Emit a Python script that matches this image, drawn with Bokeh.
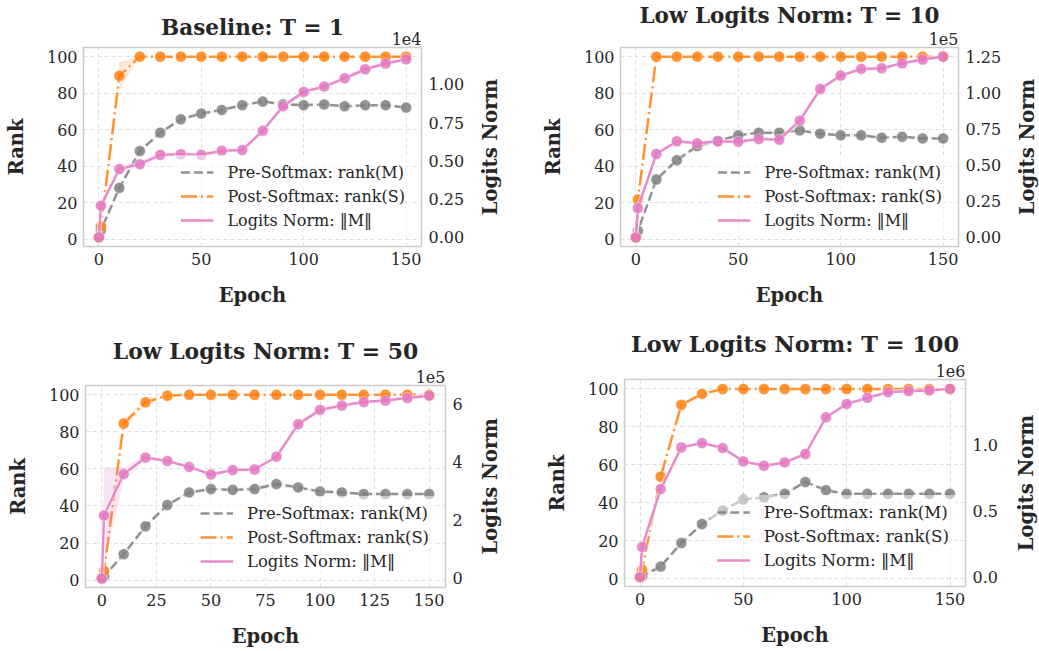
import math
from bokeh.plotting import figure
from bokeh.models import (Range1d, LinearAxis, FixedTicker, Legend, LegendItem,
                          Title, Label, NumeralTickFormatter)
from bokeh.layouts import column, row
from bokeh.embed import file_html
from bokeh.resources import INLINE

# ---------------- data ----------------
epochs = [0, 1, 10, 20, 30, 40, 50, 60, 70, 80, 90, 100, 110, 120, 130, 140, 150]

titles = ["Baseline: T = 1", "Low Logits Norm: T = 10",
          "Low Logits Norm: T = 50", "Low Logits Norm: T = 100"]
norm_exponents = ["1e4", "1e5", "1e5", "1e6"]

# T = 1
pre_t1 = [1.0, 5.0, 28.1, 48.3, 58.3, 65.7, 68.8, 70.8, 73.4, 75.4, 73.9, 73.4, 73.8, 72.8, 73.4, 73.4, 72.1]
post_t1 = [1.0, 7.0, 89.5, 100, 100, 100, 100, 100, 100, 100, 100, 100, 100, 100, 100, 100, 100]
norm_t1 = [0.0, 0.207, 0.446, 0.478, 0.539, 0.543, 0.539, 0.565, 0.570, 0.696, 0.857, 0.950, 0.985, 1.039, 1.098, 1.135, 1.163]
pre_sd_t1 = [0, 1.0, 1.5, 1.5, 1.0, 1.0, 1.0, 1.0, 1.0, 0.8, 0.8, 0.8, 0.8, 0.8, 0.8, 0.8, 0.8]
post_sd_t1 = [0, 1.0, 7.5, 0, 0, 0, 0, 0, 0, 0, 0, 0, 0, 0, 0, 0, 0]
norm_sd_t1 = [0, 0.01, 0.025, 0.02, 0.015, 0.015, 0.015, 0.015, 0.015, 0.015, 0.015, 0.015, 0.015, 0.015, 0.015, 0.015, 0.015]

# T = 10
pre_t10 = [1.0, 4.6, 32.7, 43.3, 51.0, 53.8, 56.9, 58.3, 58.3, 59.6, 57.8, 56.9, 56.9, 55.6, 56.1, 55.2, 55.2]
post_t10 = [1.0, 21.7, 100, 100, 100, 100, 100, 100, 100, 100, 100, 100, 100, 100, 100, 100, 100]
norm_t10 = [0.0, 0.204, 0.579, 0.667, 0.653, 0.667, 0.664, 0.683, 0.678, 0.810, 1.030, 1.123, 1.169, 1.174, 1.208, 1.234, 1.255]
pre_sd_t10 = [0, 1.0, 1.5, 1.5, 1.0, 1.0, 1.0, 1.0, 1.0, 0.8, 0.8, 0.8, 0.8, 0.8, 0.8, 0.8, 0.8]
post_sd_t10 = [0, 0.5, 0, 0, 0, 0, 0, 0, 0, 0, 0, 0, 0, 0, 0, 0, 0]
norm_sd_t10 = [0, 0.01, 0.015, 0.012, 0.012, 0.012, 0.012, 0.012, 0.012, 0.012, 0.012, 0.012, 0.012, 0.012, 0.012, 0.012, 0.012]

# T = 50
pre_t50 = [1.0, 2.0, 14.0, 29.0, 40.5, 47.3, 49.1, 48.7, 49.1, 51.8, 50.0, 47.8, 47.3, 46.4, 46.4, 46.4, 46.4]
post_t50 = [1.0, 5.0, 84.5, 95.9, 99.5, 100, 100, 100, 100, 100, 100, 100, 100, 100, 100, 100, 100]
norm_t50 = [0.0, 2.17, 3.59, 4.16, 4.04, 3.84, 3.58, 3.73, 3.75, 4.19, 5.31, 5.80, 5.95, 6.07, 6.12, 6.21, 6.29]
pre_sd_t50 = [0, 0.5, 1.0, 1.0, 1.0, 1.0, 1.0, 1.0, 1.2, 1.5, 1.0, 0.8, 0.8, 0.8, 0.8, 0.8, 0.8]
post_sd_t50 = [0, 1.0, 2.5, 2.0, 0.5, 0, 0, 0, 0, 0, 0, 0, 0, 0, 0, 0, 0]
norm_sd_t50 = [0, 1.67, 0.23, 0.06, 0.05, 0.05, 0.05, 0.05, 0.05, 0.06, 0.06, 0.06, 0.06, 0.06, 0.06, 0.06, 0.06]

# T = 100
pre_t100 = [1.0, 1.5, 6.5, 18.9, 28.9, 36.0, 41.8, 43.0, 44.8, 51.0, 46.7, 44.8, 44.8, 44.8, 44.8, 44.8, 44.8]
post_t100 = [1.0, 4.8, 53.8, 91.7, 97.4, 100, 100, 100, 100, 100, 100, 100, 100, 100, 100, 100, 100]
norm_t100 = [0.0, 0.228, 0.666, 0.982, 1.015, 0.977, 0.876, 0.843, 0.868, 0.932, 1.210, 1.311, 1.357, 1.400, 1.408, 1.413, 1.425]
pre_sd_t100 = [0, 0.5, 0.8, 0.8, 0.8, 0.8, 0.8, 0.8, 0.8, 0.8, 0.8, 0.5, 0.5, 0.5, 0.5, 0.5, 0.5]
post_sd_t100 = [0, 0.5, 1.0, 0.8, 0.5, 0, 0, 0, 0, 0, 0, 0, 0, 0, 0, 0, 0]
norm_sd_t100 = [0, 0.01, 0.012, 0.012, 0.01, 0.01, 0.01, 0.01, 0.01, 0.01, 0.012, 0.012, 0.01, 0.01, 0.01, 0.01, 0.01]

rank_ticks = [0, 20, 40, 60, 80, 100]
norm_ticks_list = [[0, 0.25, 0.5, 0.75, 1.0], [0, 0.25, 0.5, 0.75, 1.0, 1.25], [0, 2, 4, 6], [0, 0.5, 1.0]]
norm_formats = ["0.00", "0.00", "0", "0.0"]
norm_ranges = [(-0.06, 1.24), (-0.063, 1.318), (-0.31, 6.64), (-0.0713, 1.496)]
epoch_ticks_list = [[0, 50, 100, 150], [0, 50, 100, 150], [0, 25, 50, 75, 100, 125, 150], [0, 50, 100, 150]]

# ---------------- style ----------------
GRAY = "#7f7f7f"
ORANGE = "#ff7f0e"
PINK = "#e377c2"
FONT = "DejaVu Serif"
TXT = "#262626"

# geometry: (main width, height, left, right, top, bottom, title_standoff, exp_standoff,
#            side width, side label x, side label y from bottom, title size, legend size)
geoms = [
    (474, 320, 83, 53, 47, 74, -23, 5, 45, 16, 173.5, "21.5px", "16px"),
    (485, 320, 101, 46, 47, 74, 1, 5, 35, 22.5, 173.5, "21.5px", "16px"),
    (470, 331, 85, 25, 65, 64, 5, 5, 49, 20, 165.2, "21.9px", "16.4px"),
    (483, 331, 105, 37, 59, 65, 8, 5, 37, 24, 168.5, "22.4px", "16.7px"),
]

series = [
    (pre_t1, post_t1, norm_t1, pre_sd_t1, post_sd_t1, norm_sd_t1),
    (pre_t10, post_t10, norm_t10, pre_sd_t10, post_sd_t10, norm_sd_t10),
    (pre_t50, post_t50, norm_t50, pre_sd_t50, post_sd_t50, norm_sd_t50),
    (pre_t100, post_t100, norm_t100, pre_sd_t100, post_sd_t100, norm_sd_t100),
]


def style_axis(ax, label_standoff, tick_standoff):
    ax.axis_line_color = None
    ax.major_tick_out = 0
    ax.major_tick_in = 0
    ax.minor_tick_out = 0
    ax.minor_tick_in = 0
    ax.major_label_text_font = FONT
    ax.major_label_text_font_size = "16px"
    ax.major_label_text_color = TXT
    ax.axis_label_text_font = FONT
    ax.axis_label_text_font_style = "bold"
    ax.axis_label_text_font_size = "19.5px"
    ax.axis_label_text_color = TXT
    ax.major_label_standoff = tick_standoff
    ax.axis_label_standoff = label_standoff


def make_panel(i):
    W, H, bl, br, bt, bb, tso, eso, sw, sx, sy, tsize, lsize = geoms[i]
    pre, post, norm, pre_sd, post_sd, norm_sd = series[i]
    p = figure(width=W, height=H, x_range=Range1d(-7.5, 157.5), y_range=Range1d(-4, 105),
               output_backend="svg", toolbar_location=None, title=None, frame_align=False,
               min_border_left=bl, min_border_right=br, min_border_top=bt, min_border_bottom=bb)
    p.extra_y_ranges = {"norm": Range1d(*norm_ranges[i])}
    p.background_fill_color = "white"
    p.border_fill_color = "white"
    p.outline_line_color = "#cccccc"
    p.outline_line_width = 1.5

    style_axis(p.xaxis[0], 16, 6)
    style_axis(p.yaxis[0], 16, 6)
    p.xaxis[0].ticker = FixedTicker(ticks=epoch_ticks_list[i])
    p.yaxis[0].ticker = FixedTicker(ticks=rank_ticks)
    p.xaxis[0].axis_label = "Epoch"
    p.yaxis[0].axis_label = "Rank"

    rax = LinearAxis(y_range_name="norm",
                     ticker=FixedTicker(ticks=norm_ticks_list[i]),
                     formatter=NumeralTickFormatter(format=norm_formats[i]))
    style_axis(rax, 0, 7)
    p.add_layout(rax, "right")

    # grid
    p.xgrid.ticker = FixedTicker(ticks=epoch_ticks_list[i])
    p.ygrid.ticker = FixedTicker(ticks=rank_ticks)
    for g in (p.xgrid[0], p.ygrid[0]):
        g.grid_line_color = "#dedede"
        g.grid_line_dash = "4 3"
        g.grid_line_width = 1

    # bands
    p.varea(x=epochs, y1=[m - s for m, s in zip(pre, pre_sd)], y2=[m + s for m, s in zip(pre, pre_sd)],
            fill_color=GRAY, fill_alpha=0.2)
    p.varea(x=epochs, y1=[m - s for m, s in zip(post, post_sd)], y2=[m + s for m, s in zip(post, post_sd)],
            fill_color=ORANGE, fill_alpha=0.2)

    # pre-softmax
    p.line(epochs, pre, line_color="white", line_width=5, line_alpha=0.6)
    gl = p.line(epochs, pre, line_color=GRAY, line_width=2.5, line_dash="9 4", line_alpha=0.85)
    p.scatter(epochs, pre, size=11, fill_color=GRAY, fill_alpha=0.85, line_color="white", line_alpha=0.5, line_width=0.8)
    # post-softmax
    p.line(epochs, post, line_color="white", line_width=5, line_alpha=0.6)
    ol = p.line(epochs, post, line_color=ORANGE, line_width=2.5, line_dash="16 4 2 4", line_alpha=0.85)
    p.scatter(epochs, post, size=11, fill_color=ORANGE, fill_alpha=0.85, line_color="white", line_alpha=0.5, line_width=0.8)
    # logits norm (right axis)
    p.varea(x=epochs, y1=[m - s for m, s in zip(norm, norm_sd)], y2=[m + s for m, s in zip(norm, norm_sd)],
            fill_color=PINK, fill_alpha=0.2, y_range_name="norm")
    p.line(epochs, norm, line_color="white", line_width=5, line_alpha=0.6, y_range_name="norm")
    pl = p.line(epochs, norm, line_color=PINK, line_width=2.5, line_alpha=0.85, y_range_name="norm")
    p.scatter(epochs, norm, size=11, fill_color=PINK, fill_alpha=0.85, line_color="white", line_alpha=0.5,
              line_width=0.8, y_range_name="norm")

    legend = Legend(items=[LegendItem(label="Pre-Softmax: rank(M)", renderers=[gl]),
                           LegendItem(label="Post-Softmax: rank(S)", renderers=[ol]),
                           LegendItem(label="Logits Norm: \u2016M\u2016", renderers=[pl])],
                    location="bottom_right")
    legend.label_text_font = FONT
    legend.label_text_font_size = lsize
    legend.label_text_color = TXT
    legend.glyph_width = 33
    legend.glyph_height = 20
    legend.spacing = 4
    legend.label_standoff = 14
    legend.padding = 7
    legend.margin = 9
    legend.background_fill_alpha = 0.5
    legend.border_line_alpha = 0
    p.add_layout(legend)

    # exponent text (closest to frame) then title
    p.add_layout(Title(text=norm_exponents[i], align="right", standoff=eso, text_font=FONT,
                       text_font_size="16px", text_font_style="normal", text_color=TXT), "above")
    p.add_layout(Title(text=titles[i], align="center", standoff=tso, text_font=FONT,
                       text_font_size=tsize, text_font_style="bold", text_color=TXT), "above")

    # side strip carrying the right-axis label, read bottom to top
    s = figure(width=sw, height=H, x_range=Range1d(0, sw), y_range=Range1d(0, H),
               output_backend="svg", toolbar_location=None, title=None, frame_align=False,
               min_border=0, x_axis_location=None, y_axis_location=None)
    s.outline_line_color = None
    s.xgrid.visible = False
    s.ygrid.visible = False
    s.background_fill_color = "white"
    s.border_fill_color = "white"
    s.add_layout(Label(x=sx, y=sy, text="Logits Norm", angle=math.pi / 2, text_align="center",
                       text_baseline="middle", text_font=FONT, text_font_style="bold",
                       text_font_size="19.5px", text_color=TXT))
    return p, s


parts = [make_panel(i) for i in range(4)]
layout = column(row(parts[0][0], parts[0][1], parts[1][0], parts[1][1]),
                row(parts[2][0], parts[2][1], parts[3][0], parts[3][1]))

open("out.html", "w").write(file_html(layout, INLINE))
